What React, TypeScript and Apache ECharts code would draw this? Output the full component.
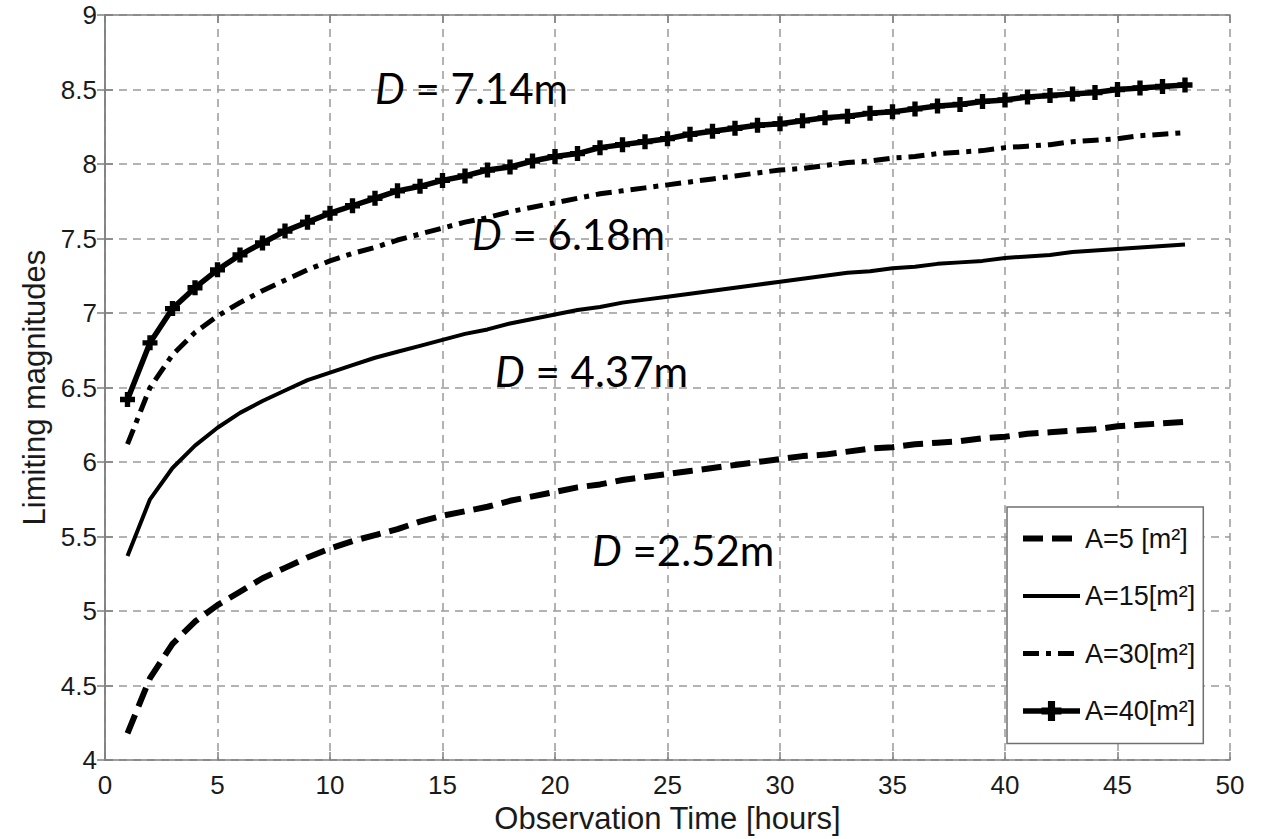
import React, { useEffect, useRef } from "react";
import * as echarts from "echarts";

const hours = [1,2,3,4,5,6,7,8,9,10,11,12,13,14,15,16,17,18,19,20,21,22,23,24,25,26,27,28,29,30,31,32,33,34,35,36,37,38,39,40,41,42,43,44,45,46,47,48];

const a5 = [4.18,4.55,4.78,4.93,5.04,5.13,5.22,5.29,5.36,5.42,5.47,5.51,5.55,5.60,5.64,5.67,5.70,5.74,5.77,5.80,5.83,5.85,5.88,5.90,5.92,5.94,5.96,5.98,6.00,6.02,6.04,6.05,6.07,6.09,6.10,6.12,6.13,6.14,6.16,6.17,6.19,6.20,6.21,6.22,6.24,6.25,6.26,6.27];

const a15 = [5.37,5.75,5.96,6.11,6.23,6.33,6.41,6.48,6.55,6.60,6.65,6.70,6.74,6.78,6.82,6.86,6.89,6.93,6.96,6.99,7.02,7.04,7.07,7.09,7.11,7.13,7.15,7.17,7.19,7.21,7.23,7.25,7.27,7.28,7.30,7.31,7.33,7.34,7.35,7.37,7.38,7.39,7.41,7.42,7.43,7.44,7.45,7.46];

const a30 = [6.12,6.50,6.72,6.87,6.98,7.07,7.15,7.22,7.29,7.35,7.40,7.44,7.49,7.53,7.57,7.61,7.64,7.68,7.71,7.74,7.77,7.80,7.82,7.84,7.86,7.88,7.90,7.92,7.94,7.96,7.97,7.99,8.01,8.02,8.04,8.05,8.07,8.08,8.09,8.11,8.12,8.13,8.15,8.16,8.17,8.19,8.20,8.21];

const a40 = [6.42,6.80,7.03,7.17,7.29,7.39,7.47,7.55,7.61,7.67,7.72,7.77,7.82,7.85,7.89,7.92,7.96,7.98,8.02,8.05,8.07,8.11,8.13,8.15,8.17,8.20,8.22,8.24,8.26,8.27,8.29,8.31,8.32,8.34,8.35,8.37,8.39,8.40,8.42,8.43,8.45,8.46,8.47,8.48,8.50,8.51,8.52,8.53];

const seriesNames = ["A=5 [m²]", "A=15[m²]", "A=30[m²]", "A=40[m²]"];
const diameterLabels = ["D = 7.14m", "D = 6.18m", "D = 4.37m", "D =2.52m"];

const xTitle = "Observation Time [hours]";
const yTitle = "Limiting magnitudes";

const FONT = "'Liberation Sans', Arial, Helvetica, sans-serif";
const ANNOT_FONT = "Lato, 'Open Sans', sans-serif";
const PLUS = "path://M4.5,0H9.5V4.5H14V9.5H9.5V14H4.5V9.5H0V4.5H4.5Z";

const pair = (vals: number[]) => hours.map((h, i) => [h, vals[i]]);

const annotPos = [
  { x: 375, y: 88 },
  { x: 472, y: 234 },
  { x: 495, y: 371 },
  { x: 592, y: 550 },
];

export default function App() {
  const ref = useRef<HTMLDivElement>(null);
  useEffect(() => {
    if (!ref.current) return;
    const chart = echarts.init(ref.current, undefined, { renderer: "svg" });
    const axisColor = "#808080";
    const gridLine = { show: true, lineStyle: { type: [8, 6] as any, color: "#9a9a9a", width: 1.5 } };
    const styles = [
      { width: 6, type: [20, 9] as any },
      { width: 4, type: "solid" as any },
      { width: 5, type: [16, 7, 5, 7] as any },
      { width: 5.5, type: "solid" as any },
    ];
    const datasets = [a5, a15, a30, a40];
    chart.setOption({
      animation: false,
      backgroundColor: "#fff",
      grid: { left: 105, right: 36, top: 15, bottom: 72, show: false },
      xAxis: [
        {
          type: "value", min: 0, max: 50, interval: 5,
          axisLine: { show: true, lineStyle: { color: axisColor, width: 1.5 } },
          axisTick: { show: true, inside: true, length: 8, lineStyle: { color: axisColor, width: 1.5 } },
          axisLabel: { fontSize: 26, color: "#1a1a1a", margin: 12, fontFamily: FONT },
          splitLine: gridLine,
          name: xTitle, nameLocation: "middle", nameGap: 34,
          nameTextStyle: { fontSize: 31, color: "#1a1a1a", fontFamily: FONT },
        },
        {
          type: "value", min: 0, max: 50, interval: 5, position: "top",
          axisLine: { show: true, lineStyle: { color: axisColor, width: 1.5 } },
          axisTick: { show: true, inside: true, length: 8, lineStyle: { color: axisColor, width: 1.5 } },
          axisLabel: { show: false }, splitLine: { show: false },
        },
      ],
      yAxis: [
        {
          type: "value", min: 4, max: 9, interval: 0.5,
          axisLine: { show: true, lineStyle: { color: axisColor, width: 1.5 } },
          axisTick: { show: true, inside: true, length: 8, lineStyle: { color: axisColor, width: 1.5 } },
          axisLabel: { fontSize: 26, color: "#1a1a1a", margin: 8, fontFamily: FONT, formatter: (v: number) => String(v) },
          splitLine: gridLine,
          name: yTitle, nameLocation: "middle", nameGap: 55,
          nameTextStyle: { fontSize: 31, color: "#1a1a1a", fontFamily: FONT },
        },
        {
          type: "value", min: 4, max: 9, interval: 0.5, position: "right",
          axisLine: { show: true, lineStyle: { color: axisColor, width: 1.5 } },
          axisTick: { show: true, inside: true, length: 8, lineStyle: { color: axisColor, width: 1.5 } },
          axisLabel: { show: false }, splitLine: { show: false },
        },
      ],
      legend: {
        orient: "vertical", left: 1007, top: 507,
        padding: [18, 8, 19, 13],
        itemWidth: 57, itemHeight: 25, itemGap: 30.5,
        backgroundColor: "#fff", borderColor: "#707070", borderWidth: 1.5, borderRadius: 0,
        textStyle: { fontSize: 27, lineHeight: 27, color: "#111", fontFamily: FONT },
        selectedMode: false,
        data: seriesNames.map((n, i) => ({
          name: n,
          lineStyle: { width: styles[i].width, type: styles[i].type, color: "#000" },
          itemStyle: i === 3 ? { color: "#000" } : { opacity: 0 },
        })),
      },
      graphic: diameterLabels.map((t, i) => {
        const parts = t.split("D");
        return {
          type: "text", x: annotPos[i].x, y: annotPos[i].y, z: 50,
          style: {
            text: `{i|D}{n|${parts[1]}}`,
            verticalAlign: "middle",
            rich: {
              i: { fontStyle: "italic", fontSize: 42, fontFamily: ANNOT_FONT, fill: "#000" },
              n: { fontSize: 42, fontFamily: ANNOT_FONT, fill: "#000" },
            },
          },
        };
      }),
      series: datasets.map((d, i) => ({
        name: seriesNames[i],
        type: "line",
        data: pair(d),
        silent: true,
        z: 10 + i,
        symbol: i === 3 ? PLUS : "none",
        symbolSize: 15,
        showSymbol: i === 3,
        itemStyle: { color: "#000" },
        lineStyle: { color: "#000", width: styles[i].width, type: styles[i].type },
        emphasis: { disabled: true },
      })),
    });
    return () => chart.dispose();
  }, []);
  return <div ref={ref} style={{ width: 1266, height: 839, position: "absolute", left: 0, top: 0 }} />;
}
